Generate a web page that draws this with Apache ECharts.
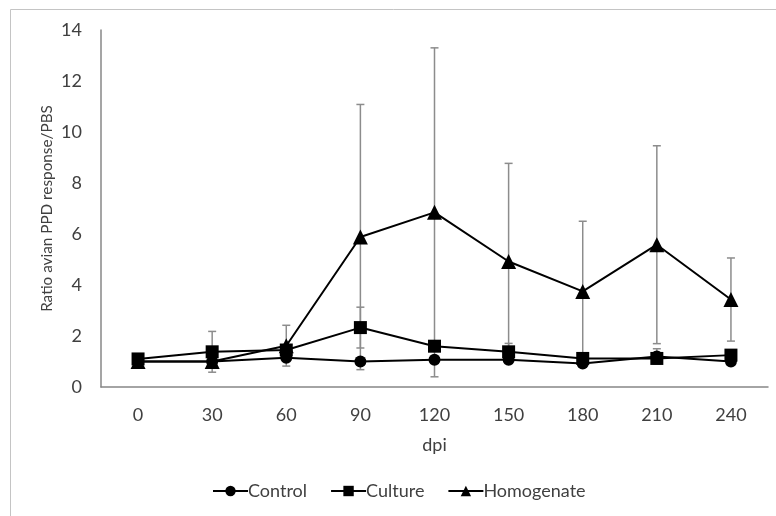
<!DOCTYPE html>
<html>
<head>
<meta charset="utf-8">
<script src="https://cdn.jsdelivr.net/npm/echarts@6/dist/echarts.min.js"></script>
<style>html,body{margin:0;padding:0;background:#fff;}#c{width:776px;height:516px;}</style>
</head>
<body>
<div id="c"></div>
<script>
const categories = ['0','30','60','90','120','150','180','210','240'];
const controlValues = [1.0, 1.0, 1.15, 1.0, 1.07, 1.07, 0.92, 1.2, 1.0];
const cultureValues = [1.1, 1.38, 1.45, 2.33, 1.6, 1.38, 1.12, 1.12, 1.25];
const homogenateValues = [1.0, 1.0, 1.62, 5.88, 6.85, 4.92, 3.75, 5.58, 3.43];
const controlErrors = [0, 0, 0.1, 0, 0, 0, 0, 0.3, 0];
const cultureErrors = [0, 0.8, 0, 0.8, 0, 0.33, 0, 0, 0];
const homogenateErrors = [0, 0, 0.8, 5.2, 6.45, 3.85, 2.75, 3.88, 1.63];
const yTicks = [0, 2, 4, 6, 8, 10, 12, 14];
const yAxisTitle = 'Ratio avian PPD response/PBS';
const xAxisTitle = 'dpi';

const FONT = 'Lato';
const chart = echarts.init(document.getElementById('c'), null, {renderer: 'canvas'});

function errData(vals, errs) {
  const out = [];
  vals.forEach((v, i) => { if (errs[i] > 0) out.push([i, v - errs[i], v + errs[i]]); });
  return out;
}
function errSeries(name, vals, errs) {
  return {
    type: 'custom', name: name + ' err', z: 1, silent: true,
    data: errData(vals, errs),
    encode: {x: 0, y: [1, 2]},
    renderItem: function (params, api) {
      const i = api.value(0);
      const lo = api.coord([i, api.value(1)]);
      const hi = api.coord([i, api.value(2)]);
      const w = 4;
      const style = {stroke: '#8c8c8c', lineWidth: 1.5, fill: null};
      return {type: 'group', children: [
        {type: 'line', shape: {x1: hi[0], y1: hi[1], x2: lo[0], y2: lo[1]}, style: style},
        {type: 'line', shape: {x1: hi[0] - w, y1: hi[1], x2: hi[0] + w, y2: hi[1]}, style: style},
        {type: 'line', shape: {x1: lo[0] - w, y1: lo[1], x2: lo[0] + w, y2: lo[1]}, style: style}
      ]};
    }
  };
}
function lineSeries(name, vals, symbol, size) {
  return {
    type: 'line', name: name, data: vals, z: 3,
    symbol: symbol, symbolSize: size, showAllSymbol: true,
    lineStyle: {color: '#000', width: 2},
    itemStyle: {color: '#000', borderWidth: 0},
    emphasis: {disabled: true}
  };
}

chart.setOption({
  animation: false,
  backgroundColor: '#fff',
  graphic: [{
    type: 'rect', shape: {x: 10.5, y: 9.5, width: 900, height: 700},
    style: {fill: null, stroke: '#c4c4c4', lineWidth: 1}, z: -10, silent: true
  }, {
    type: 'text', x: 47, y: 208.5, rotation: Math.PI / 2, silent: true,
    style: {text: yAxisTitle, fontFamily: FONT, fontSize: 15.3, fill: '#404040',
      align: 'center', verticalAlign: 'middle'}
  }],
  grid: {left: 101, right: 8, top: 30, bottom: 129},
  legend: {
    bottom: 11, left: 207, itemWidth: 35, itemHeight: 13, itemGap: 23,
    data: ['Control', 'Culture', 'Homogenate'],
    textStyle: {fontFamily: FONT, fontSize: 18, color: '#404040', padding: [0, 0, 0, -5]}
  },
  xAxis: {
    type: 'category', data: categories, boundaryGap: true,
    name: xAxisTitle, nameLocation: 'middle', nameGap: 49,
    nameTextStyle: {fontFamily: FONT, fontSize: 18, color: '#404040'},
    axisLine: {lineStyle: {color: '#878787', width: 1.5}},
    axisTick: {show: false},
    axisLabel: {fontFamily: FONT, fontSize: 18, color: '#404040', margin: 19}
  },
  yAxis: {
    type: 'value', min: 0, max: 14, interval: 2,
    axisLine: {show: true, lineStyle: {color: '#878787', width: 1.5}},
    axisTick: {show: false},
    splitLine: {show: false},
    axisLabel: {fontFamily: FONT, fontSize: 18, color: '#404040', margin: 19,
      formatter: v => yTicks.includes(v) ? String(v) : ''}
  },
  series: [
    errSeries('Control', controlValues, controlErrors),
    errSeries('Culture', cultureValues, cultureErrors),
    errSeries('Homogenate', homogenateValues, homogenateErrors),
    lineSeries('Control', controlValues, 'circle', 12),
    lineSeries('Culture', cultureValues, 'rect', 13),
    lineSeries('Homogenate', homogenateValues, 'triangle', 15)
  ]
});
</script>
</body>
</html>
